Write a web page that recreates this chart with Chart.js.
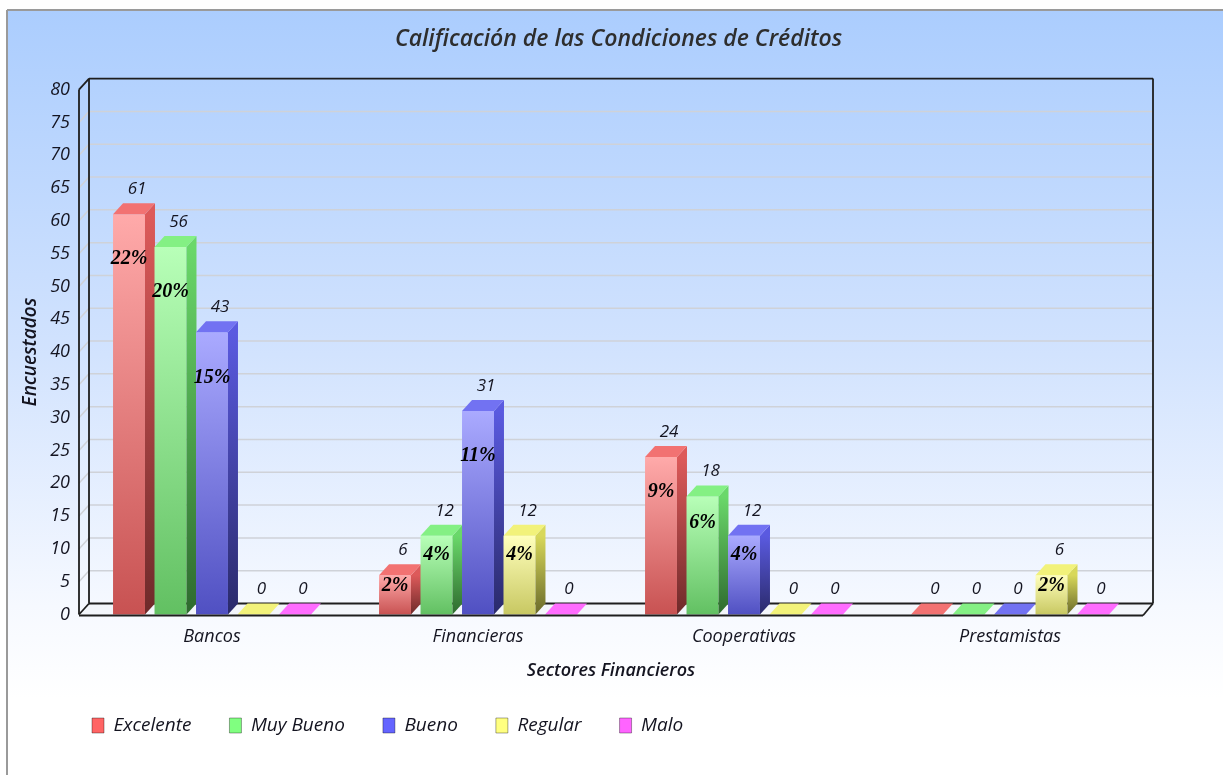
<!DOCTYPE html>
<html>
<head>
<meta charset="utf-8">
<script src="https://cdn.jsdelivr.net/npm/chart.js@4/dist/chart.umd.min.js"></script>
<style>
  html, body { margin: 0; padding: 0; background: #fff; }
  canvas { display: block; }
</style>
</head>
<body>
<canvas id="myChart" width="1223" height="775"></canvas>
<script>
const sectores = ['Bancos', 'Financieras', 'Cooperativas', 'Prestamistas'];
const excelente = [61, 6, 24, 0];
const muyBueno = [56, 12, 18, 0];
const bueno = [43, 31, 12, 0];
const regular = [0, 12, 0, 6];
const malo = [0, 0, 0, 0];
const yTicks = { min: 0, max: 80, step: 5 };

const FONT = "'Open Sans', sans-serif";
const DX = 10, DY = 11;

// front gradient top/bottom, side top/bottom, top face, legend colour
const looks = [
  { front: ['#ffaaaa', '#c85252'], side: ['#dd5a5a', '#6e2a2a'], top: '#f27272', legend: '#ff6464' },
  { front: ['#b8ffb8', '#62c062'], side: ['#6ad86a', '#2e6a2e'], top: '#84f084', legend: '#80ff80' },
  { front: ['#aaaaff', '#5050c2'], side: ['#5a5ae0', '#2a2a6a'], top: '#7272f2', legend: '#6464ff' },
  { front: ['#ffffbc', '#c8c862'], side: ['#d8d85a', '#6a6a2a'], top: '#f2f27a', legend: '#ffff80' },
  { front: ['#ffaaff', '#c852c8'], side: ['#dd5add', '#6e2a6e'], top: '#ff6cff', legend: '#ff64ff' }
];

const series = [
  ['Excelente', excelente],
  ['Muy Bueno', muyBueno],
  ['Bueno', bueno],
  ['Regular', regular],
  ['Malo', malo]
];

const total = series.reduce((s, d) => s + d[1].reduce((a, b) => a + b, 0), 0);

function poly(c, pts, fill) {
  c.beginPath();
  c.moveTo(pts[0][0], pts[0][1]);
  for (let i = 1; i < pts.length; i++) c.lineTo(pts[i][0], pts[i][1]);
  c.closePath();
  c.fillStyle = fill;
  c.fill();
}

function line(c, x1, y1, x2, y2) {
  c.beginPath();
  c.moveTo(x1, y1);
  c.lineTo(x2, y2);
  c.stroke();
}

const backdrop = {
  id: 'backdrop',
  beforeDraw(chart) {
    const c = chart.ctx;
    c.save();
    c.fillStyle = '#fff';
    c.fillRect(0, 0, chart.width, chart.height);
    const g = c.createLinearGradient(0, 10, 0, chart.height);
    g.addColorStop(0, '#abcdfe');
    g.addColorStop(0.45, '#d2e3fe');
    g.addColorStop(0.78, '#f6f9ff');
    g.addColorStop(0.9, '#ffffff');
    c.fillStyle = g;
    c.fillRect(8, 11, chart.width - 8, chart.height - 11);
    c.strokeStyle = '#9a9a9a';
    c.lineWidth = 2;
    line(c, 7, chart.height, 7, 10);
    line(c, 7, 10, chart.width, 10);
    c.restore();
  }
};

const bars3d = {
  id: 'bars3d',
  afterLayout(chart) {
    // the original places legend and title off the centre line
    chart.legend.left = 54;
    chart.titleBlock.left = 94;
  },
  beforeDatasetsDraw(chart) {
    const c = chart.ctx;
    const a = chart.chartArea;
    const ys = chart.scales.y;
    c.save();

    // floor
    poly(c, [[a.left, a.bottom], [a.right, a.bottom], [a.right + DX, a.bottom - DY], [a.left + DX, a.bottom - DY]], '#f3f6fb');

    // grid on back wall and left wall
    c.strokeStyle = '#cfd2d8';
    c.lineWidth = 1.5;
    for (let v = yTicks.min + yTicks.step; v < yTicks.max; v += yTicks.step) {
      const py = ys.getPixelForValue(v);
      line(c, a.left + DX, py - DY, a.right + DX, py - DY);
      line(c, a.left, py, a.left + DX, py - DY);
    }

    // frame
    c.strokeStyle = '#1e1e1e';
    c.lineWidth = 1.8;
    line(c, a.left + DX, a.top - DY, a.left + DX, a.bottom - DY);
    line(c, a.left + DX, a.bottom - DY, a.right + DX, a.bottom - DY);
    line(c, a.left + DX, a.top - DY, a.right + DX, a.top - DY);
    line(c, a.right + DX, a.top - DY, a.right + DX, a.bottom - DY);
    line(c, a.left, a.bottom, a.left, a.top);
    line(c, a.left, a.top, a.left + DX, a.top - DY);
    line(c, a.left, a.bottom, a.left + DX, a.bottom - DY);

    // bars, category by category, left to right
    const metas = chart.data.datasets.map((d, i) => chart.getDatasetMeta(i));
    for (let j = 0; j < chart.data.labels.length; j++) {
      metas.forEach((m, i) => {
        const b = m.data[j].getProps(['x', 'y', 'base', 'width'], true);
        const lk = looks[i];
        const x0 = b.x - b.width / 2, x1 = b.x + b.width / 2;
        const top = b.y, base = b.base;
        if (base - top > 0.5) {
          const gf = c.createLinearGradient(0, top, 0, base);
          gf.addColorStop(0, lk.front[0]);
          gf.addColorStop(1, lk.front[1]);
          poly(c, [[x0, top], [x1, top], [x1, base], [x0, base]], gf);
          const gs = c.createLinearGradient(0, top, 0, base);
          gs.addColorStop(0, lk.side[0]);
          gs.addColorStop(1, lk.side[1]);
          poly(c, [[x1, top], [x1 + DX, top - DY], [x1 + DX, base - DY], [x1, base]], gs);
        }
        poly(c, [[x0, top], [x1, top], [x1 + DX, top - DY], [x0 + DX, top - DY]], lk.top);
      });
    }

    // front floor edge
    c.strokeStyle = '#1e1e1e';
    c.lineWidth = 1.8;
    line(c, a.left, a.bottom + 1, a.right, a.bottom + 1);
    line(c, a.right, a.bottom + 1, a.right + DX, a.bottom - DY);

    // value labels and shares
    c.textAlign = 'center';
    c.textBaseline = 'middle';
    metas.forEach((m, i) => {
      const vals = chart.data.datasets[i].data;
      m.data.forEach((el, j) => {
        const b = el.getProps(['x', 'y', 'base', 'width'], true);
        c.fillStyle = '#141420';
        c.font = 'italic 17px ' + FONT;
        c.fillText(String(vals[j]), b.x + DX / 2 + 3, b.y - DY - 14);
        if (vals[j] > 0) {
          const h = b.base - b.y;
          const off = h < 180 ? 0.2 * h + 3 : 45;
          c.fillStyle = '#000';
          c.font = 'italic bold 20px "Liberation Serif", serif';
          c.fillText(Math.round(vals[j] / total * 100) + '%', b.x, b.y + off);
        }
      });
    });

    c.restore();
    return false;
  }
};

const ctx = document.getElementById('myChart');

new Chart(ctx, {
  type: 'bar',
  data: {
    labels: sectores,
    datasets: series.map((s, i) => ({
      label: s[0],
      data: s[1],
      backgroundColor: looks[i].legend,
      borderColor: 'rgba(0,0,0,0.35)',
      borderWidth: 1,
      categoryPercentage: 0.78,
      barPercentage: 0.77
    }))
  },
  options: {
    responsive: false,
    animation: false,
    devicePixelRatio: 1,
    layout: { padding: { left: 8, right: 80, top: 10, bottom: 30 } },
    plugins: {
      title: {
        display: true,
        text: 'Calificación de las Condiciones de Créditos',
        color: '#2e2e2e',
        font: { family: FONT, size: 23, style: 'italic', weight: '600' },
        padding: { top: 16, bottom: 36 }
      },
      legend: {
        position: 'bottom',
        align: 'start',
        labels: {
          color: '#141420',
          font: { family: FONT, size: 19, style: 'italic' },
          boxWidth: 12,
          boxHeight: 15,
          padding: 38
        }
      },
      tooltip: { enabled: false }
    },
    scales: {
      x: {
        grid: { display: false, drawTicks: false },
        border: { display: false },
        ticks: {
          color: '#141420',
          padding: 12,
          font: { family: FONT, size: 18, style: 'italic' }
        },
        title: {
          display: true,
          text: 'Sectores Financieros',
          color: '#141420',
          padding: { top: 0, bottom: -3.3 },
          font: { family: FONT, size: 18, style: 'italic', weight: '600' }
        },
        afterFit(s) { s.height = 63.5; }
      },
      y: {
        min: yTicks.min,
        max: yTicks.max,
        grid: { display: false, drawTicks: false },
        border: { display: false },
        ticks: {
          stepSize: yTicks.step,
          color: '#141420',
          padding: 9,
          font: { family: FONT, size: 18, style: 'italic' }
        },
        title: {
          display: true,
          text: 'Encuestados',
          color: '#141420',
          padding: { top: 11, bottom: 0 },
          font: { family: FONT, size: 19, style: 'italic', weight: '600' }
        },
        afterFit(s) { s.width = 71; }
      }
    }
  },
  plugins: [backdrop, bars3d]
});
</script>
</body>
</html>
